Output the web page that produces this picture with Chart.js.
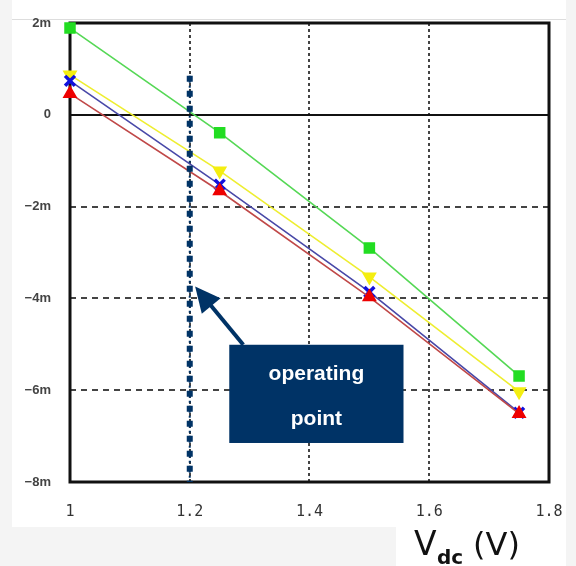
<!DOCTYPE html>
<html>
<head>
<meta charset="utf-8">
<script src="https://cdn.jsdelivr.net/npm/chart.js@4"></script>
<style>
  html, body { margin: 0; padding: 0; background: #f4f4f4; }
  canvas { display: block; }
</style>
</head>
<body>
<canvas id="ivChart" width="576" height="566"></canvas>
<script>
// Vdc sweep points and the four current curves (in A)
const vdc = [1, 1.25, 1.5, 1.75];
const greenCurve = [0.00189, -0.00039, -0.0029, -0.00569];
const yellowCurve = [0.00087, -0.00122, -0.00353, -0.00603];
const blueCurve = [0.00074, -0.00152, -0.00386, -0.00649];
const redCurve = [0.00046, -0.00166, -0.00397, -0.00651];

// operating point marker line
const opX = [1.2, 1.2];
const opY = [0.00085, -0.008];

const xTicks = [1, 1.2, 1.4, 1.6, 1.8];
const yTicks = [0.002, 0, -0.002, -0.004, -0.006, -0.008];

// callout box + arrow, in data units
const calloutBox = { x0: 1.266, x1: 1.557, y0: -0.00501, y1: -0.00715 };
const arrowTip = { x: 1.209, y: -0.00374 };

const navy = '#003366';

function pts(ys) {
    return vdc.map((x, i) => ({ x: x, y: ys[i] }));
}

function fmtMilli(v) {
    if (Math.abs(v) < 1e-9) return '0';
    const m = Math.round(v * 1000);
    return (m < 0 ? '\u2212' + (-m) : m) + 'm';
}

const framePlugin = {
    id: 'frame',
    beforeDraw(chart) {
        const c = chart.ctx;
        c.save();
        c.fillStyle = '#ffffff';
        c.fillRect(12, 0, 554, 527);
        c.fillRect(396, 527, 170, 39);
        c.strokeStyle = '#dddddd';
        c.lineWidth = 1;
        c.beginPath();
        c.moveTo(12, 19.5); c.lineTo(566, 19.5);
        c.stroke();
        c.restore();
    },
    beforeDatasetsDraw(chart) {
        const c = chart.ctx;
        const a = chart.chartArea;
        const xs = chart.scales.x, ys = chart.scales.y;
        c.save();
        c.strokeStyle = '#444';
        c.lineWidth = 2;
        // vertical dotted grid
        c.setLineDash([3, 3]);
        xTicks.slice(1, -1).forEach(v => {
            const px = Math.round(xs.getPixelForValue(v));
            c.beginPath();
            c.moveTo(px, a.top); c.lineTo(px, a.bottom);
            c.stroke();
        });
        // horizontal dashed grid
        c.setLineDash([6, 5]);
        yTicks.forEach(v => {
            if (v === 0 || v === yTicks[0] || v === yTicks[yTicks.length - 1]) return;
            const py = Math.round(ys.getPixelForValue(v));
            c.beginPath();
            c.moveTo(a.left, py); c.lineTo(a.right, py);
            c.stroke();
        });
        // zero line
        c.setLineDash([]);
        c.strokeStyle = '#111';
        c.lineWidth = 2;
        const zy = Math.round(ys.getPixelForValue(0));
        c.beginPath();
        c.moveTo(a.left, zy); c.lineTo(a.right, zy);
        c.stroke();
        // frame
        c.lineWidth = 3;
        c.strokeStyle = '#111';
        c.strokeRect(a.left, a.top, a.right - a.left, a.bottom - a.top);
        c.restore();
    },
    afterDraw(chart) {
        const c = chart.ctx;
        const xs = chart.scales.x, ys = chart.scales.y;
        c.save();
        // callout arrow
        const bx0 = xs.getPixelForValue(calloutBox.x0), bx1 = xs.getPixelForValue(calloutBox.x1);
        const by0 = ys.getPixelForValue(calloutBox.y0), by1 = ys.getPixelForValue(calloutBox.y1);
        const tx = xs.getPixelForValue(arrowTip.x), ty = ys.getPixelForValue(arrowTip.y);
        const sx = bx0 + 14, sy = by0;
        const ang = Math.atan2(ty - sy, tx - sx);
        c.strokeStyle = navy;
        c.fillStyle = navy;
        c.lineWidth = 4;
        c.beginPath();
        c.moveTo(sx, sy);
        c.lineTo(tx - Math.cos(ang) * 16, ty - Math.sin(ang) * 16);
        c.stroke();
        c.beginPath();
        c.moveTo(tx, ty);
        c.lineTo(tx - Math.cos(ang - 0.45) * 28, ty - Math.sin(ang - 0.45) * 28);
        c.lineTo(tx - Math.cos(ang + 0.45) * 28, ty - Math.sin(ang + 0.45) * 28);
        c.closePath();
        c.fill();
        // callout box
        c.fillRect(bx0, by0, bx1 - bx0, by1 - by0);
        c.fillStyle = '#ffffff';
        c.font = 'bold 21px "Liberation Sans", Arial, sans-serif';
        c.textAlign = 'center';
        c.textBaseline = 'middle';
        const cx = (bx0 + bx1) / 2;
        c.fillText('operating', cx, by0 + (by1 - by0) * 0.3);
        c.fillText('point', cx, by0 + (by1 - by0) * 0.76);
        // axis title V_dc (V)
        c.fillStyle = '#111';
        c.textAlign = 'left';
        c.textBaseline = 'alphabetic';
        c.font = '33px "DejaVu Sans", sans-serif';
        c.fillText('V', 414, 555);
        c.font = 'bold 20px "DejaVu Sans", sans-serif';
        c.fillText('dc', 437, 564);
        c.font = '32px "DejaVu Sans", sans-serif';
        c.fillText('(V)', 473, 555);
        c.restore();
    }
};

const ctx = document.getElementById('ivChart');

const chart = new Chart(ctx, {
    type: 'line',
    data: {
        datasets: [
            {
                label: 'operating point',
                data: opX.map((x, i) => ({ x: x, y: opY[i] })),
                borderColor: navy,
                borderWidth: 6,
                borderDash: [6, 9],
                borderCapStyle: 'butt',
                pointRadius: 0,
                order: 0
            },
            {
                label: 'operating point (fine)',
                data: opX.map((x, i) => ({ x: x, y: opY[i] })),
                borderColor: navy,
                borderWidth: 2,
                borderDash: [2, 3],
                borderCapStyle: 'butt',
                pointRadius: 0,
                order: 0
            },
            {
                label: 'red',
                data: pts(redCurve),
                borderColor: '#c04848',
                borderWidth: 1.6,
                pointStyle: 'triangle',
                pointRadius: 7,
                pointBackgroundColor: '#ee0000',
                pointBorderColor: '#ee0000',
                order: 1
            },
            {
                label: 'blue',
                data: pts(blueCurve),
                borderColor: '#4848a8',
                borderWidth: 1.6,
                pointStyle: 'crossRot',
                pointRadius: 7,
                pointBorderWidth: 3.5,
                pointBorderColor: '#1010dd',
                order: 2
            },
            {
                label: 'yellow',
                data: pts(yellowCurve),
                borderColor: '#eeee30',
                borderWidth: 1.6,
                pointStyle: 'triangle',
                rotation: 180,
                pointRadius: 7,
                pointBackgroundColor: '#f4ee10',
                pointBorderColor: '#f4ee10',
                order: 3
            },
            {
                label: 'green',
                data: pts(greenCurve),
                borderColor: '#55d855',
                borderWidth: 1.6,
                pointStyle: 'rect',
                pointRadius: 7,
                pointBackgroundColor: '#22dd22',
                pointBorderColor: '#22dd22',
                order: 4
            }
        ]
    },
    options: {
        responsive: false,
        animation: false,
        clip: false,
        layout: { padding: { left: 0, top: 23, right: 27, bottom: 0 } },
        plugins: {
            legend: { display: false },
            tooltip: { enabled: false }
        },
        scales: {
            x: {
                type: 'linear',
                min: 1,
                max: 1.8,
                afterFit(scale) { scale.height = 84; },
                afterBuildTicks(scale) { scale.ticks = xTicks.map(v => ({ value: v })); },
                grid: { display: false },
                border: { display: false },
                ticks: {
                    padding: 13,
                    color: '#333',
                    font: { family: '"DejaVu Sans Mono", monospace', size: 15 },
                    callback: v => String(v)
                }
            },
            y: {
                min: -0.008,
                max: 0.002,
                afterFit(scale) { scale.width = 70; },
                afterBuildTicks(scale) { scale.ticks = yTicks.map(v => ({ value: v })); },
                grid: { display: false },
                border: { display: false },
                ticks: {
                    padding: 11,
                    color: '#444',
                    font: { family: '"Liberation Sans Narrow", "Liberation Sans", Arial, sans-serif', size: 13, weight: 'bold' },
                    callback: v => fmtMilli(v)
                }
            }
        }
    },
    plugins: [framePlugin]
});
</script>
</body>
</html>
